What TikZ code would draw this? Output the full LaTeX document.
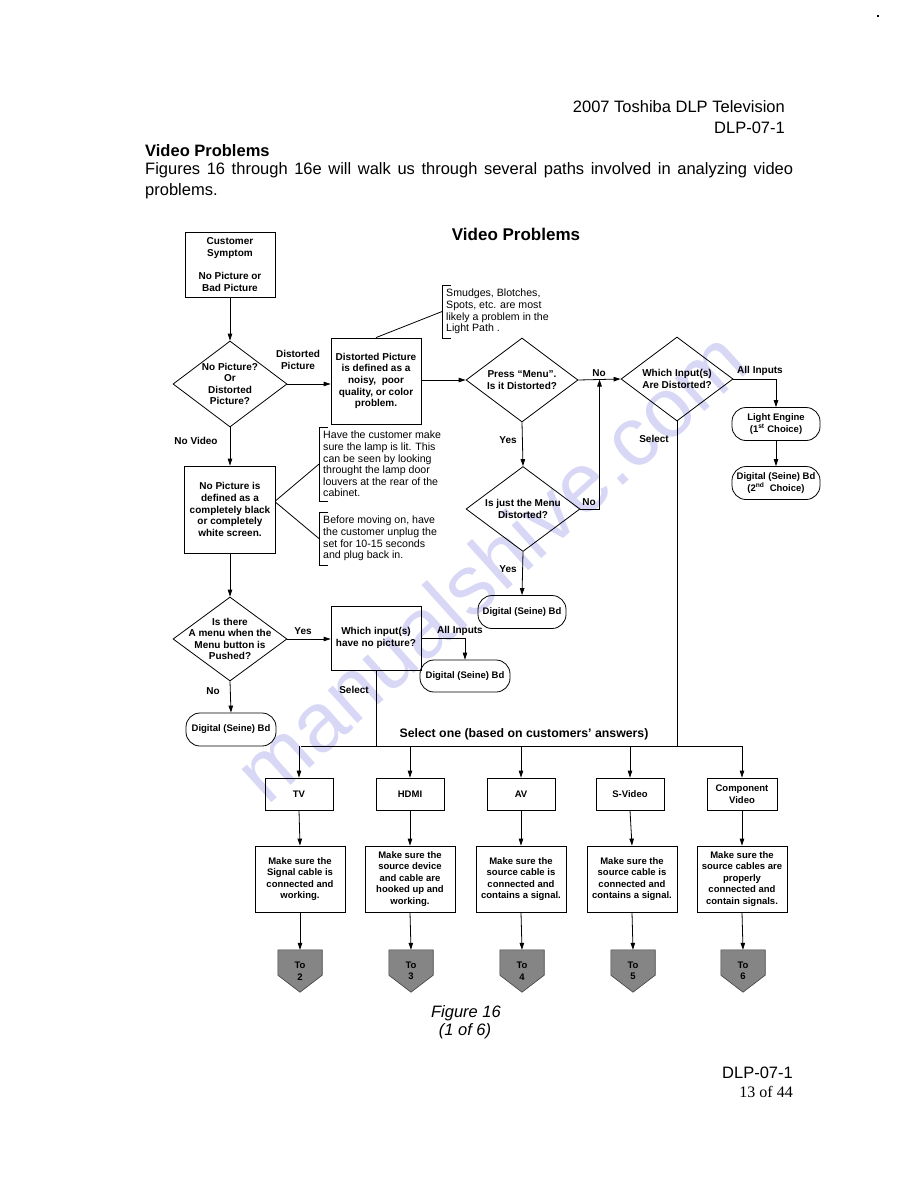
\documentclass[tikz,border=0pt]{standalone}
\usepackage{fontspec}
\setmainfont{Liberation Sans}
\newfontfamily\serifface{Liberation Serif}
\usetikzlibrary{shapes.geometric,arrows.meta,calc}
\pgfdeclarelayer{bg}
\pgfsetlayers{bg,main}
\definecolor{wmark}{RGB}{216,216,246}
\newcommand\sbf{\fontsize{10}{11.6}\selectfont\bfseries}
\newcommand\rbf{\fontsize{9.5}{11.5}\selectfont\bfseries}
\newcommand\snote{\fontsize{10.6}{11.6}\selectfont}
\newcommand\bigtxt{\fontsize{16.5}{20}\selectfont}
\begin{document}
\begin{tikzpicture}[x=1pt,y=-1pt,
 every node/.style={inner sep=0pt},
 ln/.style={line width=0.8pt},
 arr/.style={line width=0.8pt,-{Triangle[length=7pt,width=4.5pt]}},
 box/.style={draw,line width=0.8pt,align=center,font=\sbf},
 lowbox/.style={draw,line width=0.8pt,align=center,font=\rbf},
 dia/.style={draw,diamond,line width=0.8pt,inner sep=0pt,minimum width=114pt,minimum height=86pt},
 dtext/.style={align=center,font=\sbf},
 rbox/.style={draw,line width=0.8pt,rounded corners=14pt,align=center,font=\rbf,minimum width=88pt,minimum height=33pt},
 lbl/.style={font=\sbf,align=center},
 note/.style={align=left,font=\snote,inner sep=4pt,anchor=north west},
 bracket/.style={line width=0.8pt},
 pentbox/.style={minimum width=44pt,minimum height=42pt,font=\rbf,align=center},
 pentfill/.style={draw=black!75,fill=black!48,line width=0.6pt}
]
\useasboundingbox (0,0) rectangle (918,1188);
\begin{pgfonlayer}{bg}
\fill[white] (0,0) rectangle (918,1188);
\end{pgfonlayer}

% watermark
\node[rotate=42,text=wmark,font=\fontsize{84}{84}\selectfont] (wm) at (490,565) {manualshive.com};

% header texts
\node[anchor=base east,font=\bigtxt] (hd1) at (785,113) {2007 Toshiba DLP Television};
\node[anchor=base east,font=\bigtxt] (hd2) at (785,134) {DLP-07-1};
\node[anchor=base west,font=\bigtxt\bfseries] (hd3) at (145,157) {Video Problems};
\node[anchor=base west,font=\bigtxt] (hd4) at (145,174) {\makebox[648pt][s]{Figures 16 through 16e will walk us through several paths involved in analyzing video}};
\node[anchor=base west,font=\bigtxt] (hd5) at (145,195) {problems.};
\node[font=\fontsize{17}{20}\selectfont\bfseries] (title) at (516,234) {Video Problems};
\node[fill=black,minimum size=2pt] (dot) at (878,16) {};

% main flow
\node[box,minimum width=90pt,minimum height=65pt] (b1) at (230,264.5) {Customer\\Symptom\\[11.6pt]No Picture or\\Bad Picture};
\node[dia] (d1) at (230,384) {};
\node[dtext] (d1t) at (d1) {No Picture?\\Or\\Distorted\\Picture?};
\node[box,minimum width=90pt,minimum height=86pt] (b2) at (376,381) {Distorted Picture\\is defined as a\\noisy,\ \ poor\\quality, or color\\problem.};
\node[dia,minimum width=112pt,minimum height=84pt] (d2) at (522,380) {};
\node[dtext] (d2t) at (d2) {Press ``Menu''.\\Is it Distorted?};
\node[dia,minimum width=112pt,minimum height=84pt] (d3) at (677,379) {};
\node[dtext] (d3t) at (d3) {Which Input(s)\\Are Distorted?};
\node[rbox] (le) at (776,424) {Light Engine\\(1\textsuperscript{st} Choice)};
\node[rbox] (ds2) at (776,483) {Digital (Seine) Bd\\(2\textsuperscript{nd}\ \ Choice)};
\node[dia,minimum width=114pt,minimum height=85pt] (d4) at (523,509) {};
\node[dtext] (d4t) at (d4) {Is just the Menu\\Distorted?};
\node[rbox] (ds3) at (522,612) {Digital (Seine) Bd};
\node[box,minimum width=91pt,minimum height=87pt] (b3) at (230,509.5) {No Picture is\\defined as a\\completely black\\or completely\\white screen.};
\node[dia,minimum width=114pt,minimum height=84pt] (d5) at (230,639) {};
\node[dtext] (d5t) at (d5) {Is there\\A menu when the\\Menu button is\\Pushed?};
\node[box,minimum width=90pt,minimum height=64pt] (b4) at (376,638) {Which input(s)\\have no picture?};
\node[rbox,minimum width=90pt,minimum height=32pt] (ds4) at (465,676) {Digital (Seine) Bd};
\node[rbox,minimum width=90pt] (ds5) at (231,729.5) {Digital (Seine) Bd};

% notes
\node[note] (n1) at (442,285) {Smudges, Blotches,\\Spots, etc. are most\\likely a problem in the\\Light Path .};
\node[note] (n2) at (319,427) {Have the customer make\\sure the lamp is lit. This\\can be seen by looking\\throught the lamp door\\louvers at the rear of the\\cabinet.};
\node[note] (n3) at (319,512) {Before moving on, have\\the customer unplug the\\set for 10-15 seconds\\and plug back in.};
\foreach \n in {n1,n2,n3}{
 \draw[bracket] ([xshift=9pt]\n.north west) -| (\n.south west) -- ([xshift=9pt]\n.south west);
}

% labels
\node[lbl] (l1) at (298,360) {Distorted\\Picture};
\node[lbl] (l2) at (196,441) {No Video};
\node[lbl] (l3) at (599,373) {No};
\node[lbl] (l4) at (760,371) {All Inputs};
\node[lbl] (l5) at (508,440) {Yes};
\node[lbl] (l6) at (654,439) {Select};
\node[lbl] (l7) at (589,502) {No};
\node[lbl] (l8) at (508,569) {Yes};
\node[lbl] (l9) at (303,631) {Yes};
\node[lbl] (l10) at (460,631) {All Inputs};
\node[lbl] (l11) at (354,690) {Select};
\node[lbl] (l12) at (213,691) {No};
\node[font=\fontsize{12.3}{14}\selectfont\bfseries] (l13) at (524,734) {Select one (based on customers' answers)};

% connectors
\draw[arr] (b1.south) -- (d1.north);
\draw[arr] (d1.east) -- (d1.east -| b2.west);
\draw[ln] (b2.north) -- (n1.west);
\draw[arr] (b2.east |- d2.west) -- (d2.west);
\draw[arr] (d2.east) -- (d3.west);
\draw[arr] (d3.east) -| (le.north);
\draw[arr] (le.south) -- (ds2.north);
\draw[arr] (d2.south) -- (d4.north);
\draw[arr] (d4.east) -| ($(d2.east)!0.5!(d3.west)$);
\draw[arr] (d4.south) -- (ds3.north);
\draw[arr] (d1.south) -- (b3.north);
\draw[ln] ([yshift=9pt]b3.east) -- (n2.west);
\draw[ln] ([yshift=7pt]b3.east) -- (n3.west);
\draw[arr] (b3.south) -- (d5.north);
\draw[arr] (d5.east) -- (d5.east -| b4.west);
\draw[arr] (b4.east) -| (ds4.north);
\draw[arr] (d5.south) -- (ds5.north);

% bottom rows
\node[lowbox,minimum width=68pt,minimum height=32pt] (t1) at (299,794) {TV};
\node[lowbox,minimum width=68pt,minimum height=32pt] (t2) at (410,794) {HDMI};
\node[lowbox,minimum width=68pt,minimum height=32pt] (t3) at (521,794) {AV};
\node[lowbox,minimum width=68pt,minimum height=32pt] (t4) at (630,794) {S-Video};
\node[lowbox,minimum width=70pt,minimum height=32pt] (t5) at (742,794) {Component\\Video};

\node[lowbox,minimum width=90pt,minimum height=66pt] (m1) at (300,879) {Make sure the\\Signal cable is\\connected and\\working.};
\node[lowbox,minimum width=90pt,minimum height=66pt] (m2) at (410,879) {Make sure the\\source device\\and cable are\\hooked up and\\working.};
\node[lowbox,minimum width=90pt,minimum height=66pt] (m3) at (521,879) {Make sure the\\source cable is\\connected and\\contains a signal.};
\node[lowbox,minimum width=90pt,minimum height=66pt] (m4) at (632,879) {Make sure the\\source cable is\\connected and\\contains a signal.};
\node[lowbox,minimum width=90pt,minimum height=66pt] (m5) at (742,879) {Make sure the\\source cables are\\properly\\connected and\\contain signals.};

\node[pentbox] (p1) at (300,971) {To\\2};
\node[pentbox] (p2) at (411,971) {To\\3};
\node[pentbox] (p3) at (522,971) {To\\4};
\node[pentbox] (p4) at (633,971) {To\\5};
\node[pentbox] (p5) at (743,971) {To\\6};
\begin{pgfonlayer}{bg}
\foreach \i in {1,...,5}{
 \filldraw[pentfill] (p\i.north west) -- (p\i.north east) -- ([yshift=17pt]p\i.south east) -- (p\i.south) -- ([yshift=17pt]p\i.south west) -- cycle;
}
\end{pgfonlayer}

\coordinate (busL) at (301,746);
\coordinate (busR) at (743,746);
\draw[ln] (b4.south) -- (b4.south |- busL);
\draw[ln] (d3.south) -- (d3.south |- busL);
\draw[ln] (busL) -- (busR);
\foreach \i in {1,...,5}{
 \draw[arr] (t\i.north |- busL) -- (t\i.north);
 \draw[arr] (t\i.south) -- (m\i.north);
 \draw[arr] (m\i.south) -- (p\i.north);
}

% captions and footer
\node[font=\bigtxt\itshape] (cap1) at (466,1013) {Figure 16};
\node[font=\bigtxt\itshape] (cap2) at (465,1031) {(1 of 6)};
\node[anchor=base east,font=\bigtxt] (ft1) at (793,1078) {DLP-07-1};
\node[anchor=base east,font=\fontsize{16}{19}\serifface] (ft2) at (793,1097) {13 of 44};
\end{tikzpicture}
\end{document}
